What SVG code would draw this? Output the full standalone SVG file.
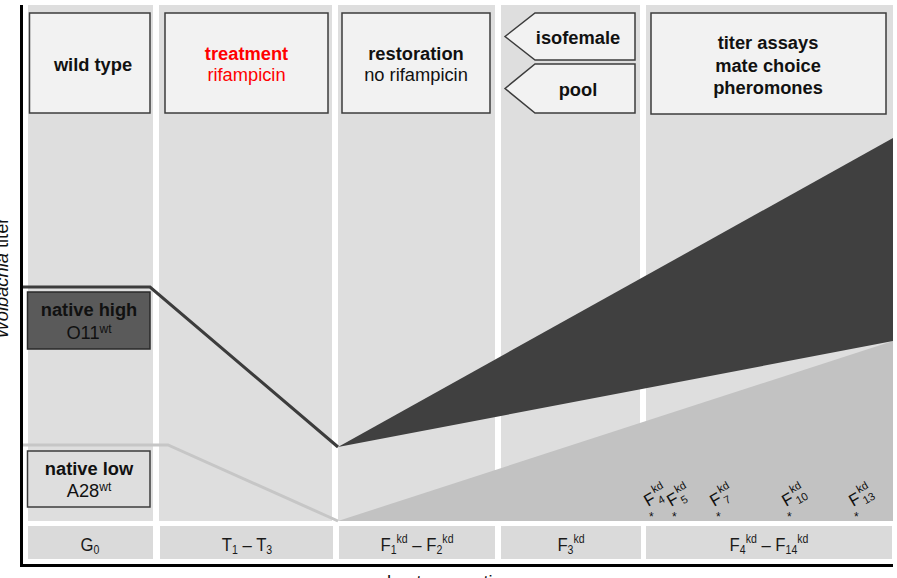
<svg xmlns="http://www.w3.org/2000/svg" width="897" height="578" viewBox="0 0 897 578">
<defs>
<style>
.col{fill:#dedede}
.box{fill:#f2f2f2;stroke:#3c3c3c;stroke-width:1.5}
.t{font-family:"Liberation Sans",Arial,sans-serif;font-size:18.3px;fill:#111;text-anchor:middle}
.b{font-weight:bold}
.red{fill:#f00}
.gen{fill:#dadada}
.g{font-family:"Liberation Sans",Arial,sans-serif;font-size:19px;fill:#1a1a1a;text-anchor:middle}
.f{font-family:"Liberation Sans",Arial,sans-serif;fill:#111}
.sm{font-size:11px}
</style>
</defs>
<rect width="897" height="578" fill="#fff"/>
<g id="columns">
<rect class="col" x="28" y="5" width="125" height="516"/>
<rect class="col" x="159" y="5" width="173" height="516"/>
<rect class="col" x="338" y="5" width="157" height="516"/>
<rect class="col" x="501" y="5" width="139" height="516"/>
<rect class="col" x="646" y="5" width="247" height="516"/>
</g>
<g id="wedges">
<polygon points="338,521 893,341 893,521" fill="#c2c2c2"/>
<polygon points="338,447 893,138 893,341" fill="#404040"/>
</g>
<g id="connectors" fill="none" stroke-width="3" stroke-linejoin="miter">
<polyline points="22,445 168,445 338,521" stroke="#c6c6c6"/>
<polyline points="22,287 150,287 338,447" stroke="#3c3c3c"/>
</g>
<g id="wildtype">
<rect class="box" x="29.5" y="13" width="120.5" height="100"/>
<text class="t b" x="93" y="71">wild type</text>
</g>
<g id="treatment">
<rect class="box" x="165" y="13" width="163" height="100"/>
<text class="t b red" x="246.5" y="60">treatment</text>
<text class="t red" x="246.5" y="81">rifampicin</text>
</g>
<g id="restoration">
<rect class="box" x="342" y="13" width="148" height="100"/>
<text class="t b" x="416" y="60">restoration</text>
<text class="t" x="416" y="81">no rifampicin</text>
</g>
<g id="isofemale">
<polygon class="box" points="505,36.5 535,13 635,13 635,60 535,60"/>
<text class="t b" x="578" y="44">isofemale</text>
</g>
<g id="pool">
<polygon class="box" points="505,88.5 535,64 635,64 635,113 535,113"/>
<text class="t b" x="578" y="96">pool</text>
</g>
<g id="assays">
<rect class="box" x="651" y="13" width="235" height="101"/>
<text class="t b" x="768" y="49">titer assays</text>
<text class="t b" x="768" y="72">mate choice</text>
<text class="t b" x="768" y="94">pheromones</text>
</g>
<g id="nativehigh">
<rect x="27.5" y="292" width="122.5" height="57" fill="#5a5a5a" stroke="#2a2a2a" stroke-width="1.5"/>
<text class="t b" x="89" y="316">native high</text>
<text class="t" x="89" y="339">O11<tspan font-size="12" dy="-6">wt</tspan></text>
</g>
<g id="nativelow">
<rect x="27.5" y="451" width="122.5" height="56" fill="#dedede" stroke="#3c3c3c" stroke-width="1.5"/>
<text class="t b" x="89" y="475">native low</text>
<text class="t" x="89" y="497">A28<tspan font-size="12" dy="-6">wt</tspan></text>
</g>
<g id="generations">
<rect class="gen" x="28" y="526" width="125" height="33"/>
<rect class="gen" x="160" y="526" width="173" height="33"/>
<rect class="gen" x="339" y="526" width="156" height="33"/>
<rect class="gen" x="501" y="526" width="140" height="33"/>
<rect class="gen" x="646" y="526" width="246" height="33"/>
<text class="g" transform="translate(90,551) scale(0.88,1)">G<tspan font-size="12" dy="3">0</tspan></text>
<text class="g red" transform="translate(247,551) scale(0.88,1)">T<tspan font-size="12" dy="3">1</tspan><tspan dy="-3"> – T</tspan><tspan font-size="12" dy="3">3</tspan></text>
<text class="g" transform="translate(417,551) scale(0.88,1)">F<tspan font-size="12" dy="3">1</tspan><tspan font-size="12" dy="-11">kd</tspan><tspan dy="8"> – F</tspan><tspan font-size="12" dy="3">2</tspan><tspan font-size="12" dy="-11">kd</tspan></text>
<text class="g" transform="translate(571,551) scale(0.88,1)">F<tspan font-size="12" dy="3">3</tspan><tspan font-size="12" dy="-11">kd</tspan></text>
<text class="g" transform="translate(769,551) scale(0.88,1)">F<tspan font-size="12" dy="3">4</tspan><tspan font-size="12" dy="-11">kd</tspan><tspan dy="8"> – F</tspan><tspan font-size="12" dy="3">14</tspan><tspan font-size="12" dy="-11">kd</tspan></text>
</g>
<g id="flabels" class="f">
<g transform="translate(648,507) rotate(-30)"><text font-size="17">F</text><text class="sm" x="12" y="4">4</text><text class="sm" x="12" y="-9">kd</text></g>
<g transform="translate(671,507) rotate(-30)"><text font-size="17">F</text><text class="sm" x="12" y="4">5</text><text class="sm" x="12" y="-9">kd</text></g>
<g transform="translate(714,507) rotate(-30)"><text font-size="17">F</text><text class="sm" x="12" y="4">7</text><text class="sm" x="12" y="-9">kd</text></g>
<g transform="translate(786,507) rotate(-30)"><text font-size="17">F</text><text class="sm" x="12" y="4">10</text><text class="sm" x="12" y="-9">kd</text></g>
<g transform="translate(853,507) rotate(-30)"><text font-size="17">F</text><text class="sm" x="12" y="4">13</text><text class="sm" x="12" y="-9">kd</text></g>
<text font-size="12" x="649" y="521">*</text>
<text font-size="12" x="672" y="521">*</text>
<text font-size="12" x="716" y="521">*</text>
<text font-size="12" x="787" y="521">*</text>
<text font-size="12" x="854" y="521">*</text>
</g>
<g id="axes" stroke="#000" stroke-width="3" fill="none">
<line x1="21.5" y1="5" x2="21.5" y2="567"/>
<line x1="20" y1="565.5" x2="893" y2="565.5"/>
</g>
<text class="t" font-size="19" transform="translate(8,278) rotate(-90)"><tspan font-style="italic">Wolbachia</tspan> titer</text>
<text class="t" font-size="17" x="450" y="588">host generation</text>
</svg>
